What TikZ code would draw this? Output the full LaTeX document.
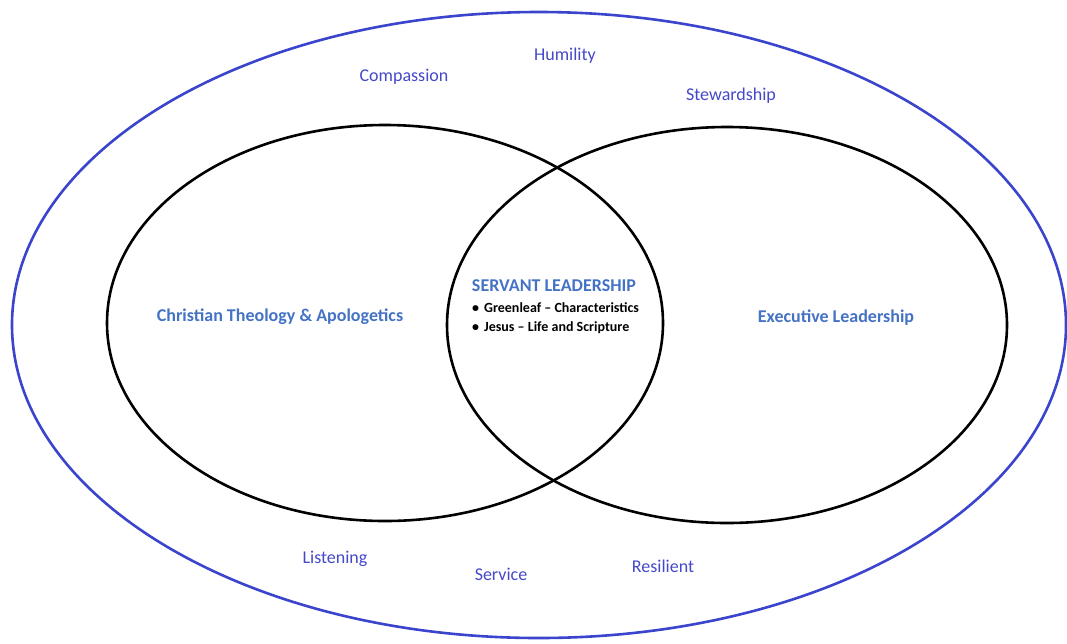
\documentclass[tikz,border=0pt]{standalone}
\usepackage{fontspec}
\setmainfont{Carlito}
\definecolor{outerblue}{HTML}{3B44CC}
\definecolor{wordblue}{HTML}{4548C8}
\definecolor{titleblue}{HTML}{4472C4}
\begin{document}
\begin{tikzpicture}[x=1pt,y=-1pt,
  word/.style={text=wordblue,font=\fontsize{18}{21}\selectfont,inner sep=0pt},
  title/.style={text=titleblue,font=\fontsize{18}{21}\selectfont\bfseries,inner sep=0pt},
  bul/.style={font=\fontsize{14}{17}\selectfont\bfseries,inner sep=0pt,anchor=west}]
\useasboundingbox (0,0) rectangle (1067,643);
\draw[outerblue,line width=2.6pt] (539,325) ellipse [x radius=527, y radius=313];
\draw[black,line width=2.6pt] (385,323) ellipse [x radius=278, y radius=198];
\draw[black,line width=2.6pt] (727,325) ellipse [x radius=280, y radius=198];
\node[word] (compassion) at (404,77) {Compassion};
\node[word] (humility) at (565,56) {Humility};
\node[word] (stewardship) at (731,96) {Stewardship};
\node[word] (listening) at (335,559) {Listening};
\node[word] (service) at (501,574) {Service};
\node[word] (resilient) at (663,566) {Resilient};
\node[title] (christian) at (280,317) {Christian Theology \& Apologetics};
\node[title] (executive) at (836,318) {Executive Leadership};
\node[title] (servant) at (554,286) {SERVANT LEADERSHIP};
\node[bul] (b1) at (472,308) {\textbullet\hspace{5pt}Greenleaf – Characteristics};
\node[bul] (b2) at (472,328) {\textbullet\hspace{5pt}Jesus – Life and Scripture};
\end{tikzpicture}
\end{document}
